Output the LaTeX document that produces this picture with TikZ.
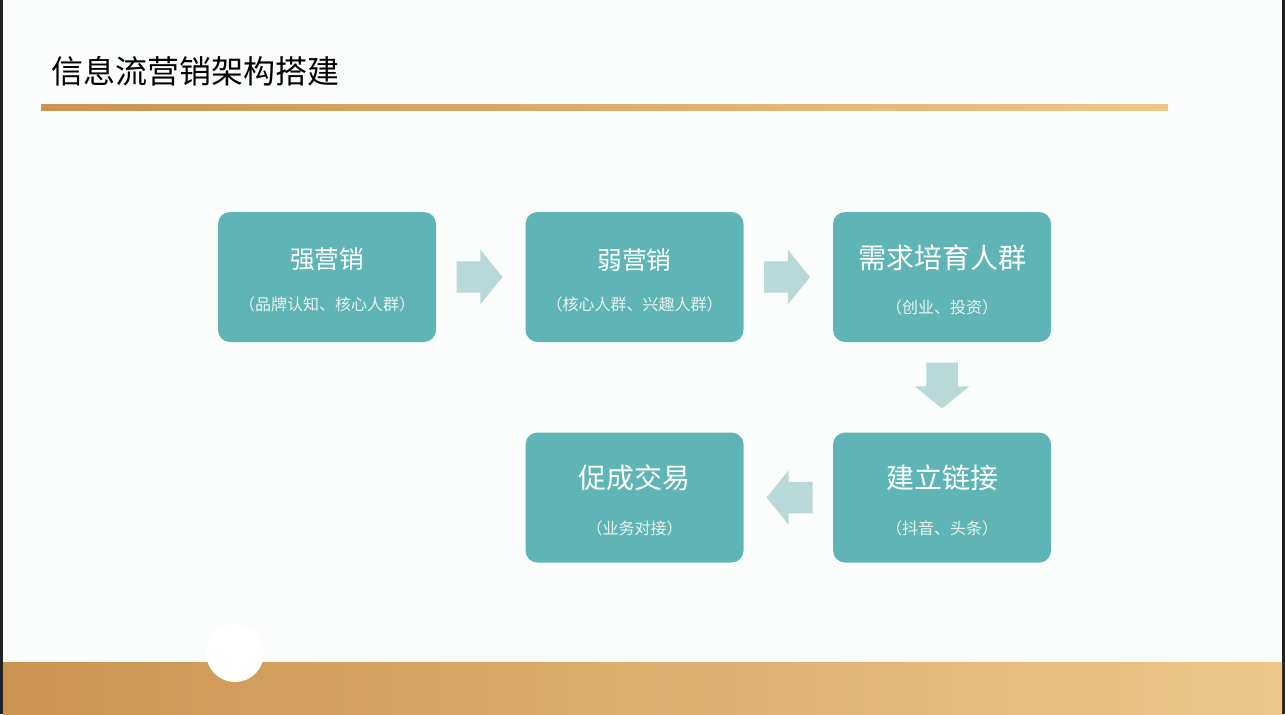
\documentclass[tikz,border=0pt]{standalone}
\usepackage{fontspec}
\setmainfont{Noto Sans CJK SC}
\usetikzlibrary{positioning,shapes.arrows}

\definecolor{pagebg}{HTML}{FBFDFC}
\definecolor{frame}{HTML}{222222}
\definecolor{boxteal}{HTML}{5FB5B5}
\definecolor{arrowteal}{HTML}{B8D9D8}
\definecolor{subwhite}{HTML}{EAF4EF}
\definecolor{goldL}{HTML}{CB9450}
\definecolor{goldR}{HTML}{EEC788}

\begin{document}
\begin{tikzpicture}[
  x=0.75pt, y=-0.75pt,
  stage/.style   ={fill=boxteal, rounded corners=9pt, minimum width=163.5pt,
                   minimum height=97.5pt, inner sep=0pt},
  head/.style    ={text=white, inner sep=0pt, font=\fontsize{18.5}{22}\selectfont},
  bighead/.style ={text=white, inner sep=0pt, font=\fontsize{21}{25}\selectfont},
  sub/.style     ={text=subwhite, inner sep=0pt, font=\fontsize{12}{14}\selectfont},
  flowarrow/.style={single arrow, fill=arrowteal, inner xsep=0pt, inner ysep=11.6pt,
                   minimum height=34.5pt, minimum width=40.5pt,
                   single arrow head extend=8.6pt, single arrow tip angle=101.7},
  downarrow/.style={flowarrow, shape border rotate=270, inner xsep=11.6pt, inner ysep=0pt},
]
\useasboundingbox (0,0) rectangle (1285,714);
\fill[pagebg] (0,0) rectangle (1285,714);
\fill[frame] (0,0) rectangle (3,714);
\fill[frame] (1282,0) rectangle (1285,714);

% title and rule
\node[anchor=west, inner sep=0pt, font=\fontsize{24}{28}\selectfont] (title) at (51,71)
  {信息流营销架构搭建};
\shade[left color=goldL, right color=goldR] (41,104) rectangle (1168,110);

% footer
\shade[left color=goldL, right color=goldR] (3,662) rectangle (1282,714);
\fill[white] (235,653) circle (21.75pt);

% stages
\node[stage] (qiang) at (327,277) {};
\node[stage, right=66.75pt of qiang] (ruo) {};
\node[stage, right=66.75pt of ruo] (xuqiu) {};
\node[stage, below=67.5pt of xuqiu] (lianjie) {};
\node[stage, below=67.5pt of ruo] (jiaoyi) {};

\node[head] (qiang-t) at ([yshift=13pt]qiang.center) {强营销};
\node[sub] (qiang-s) at ([yshift=-20.25pt]qiang.center) {（品牌认知、核心人群）};
\node[head] (ruo-t) at ([yshift=13pt]ruo.center) {弱营销};
\node[sub] (ruo-s) at ([yshift=-20.25pt]ruo.center) {（核心人群、兴趣人群）};
\node[bighead] (xuqiu-t) at ([yshift=14.5pt]xuqiu.center) {需求培育人群};
\node[sub] (xuqiu-s) at ([yshift=-23pt]xuqiu.center) {（创业、投资）};
\node[bighead] (lianjie-t) at ([yshift=14.5pt]lianjie.center) {建立链接};
\node[sub] (lianjie-s) at ([yshift=-23pt]lianjie.center) {（抖音、头条）};
\node[bighead] (jiaoyi-t) at ([yshift=14.5pt]jiaoyi.center) {促成交易};
\node[sub] (jiaoyi-s) at ([yshift=-23pt]jiaoyi.center) {（业务对接）};

% arrows
\node[flowarrow, right=15pt of qiang] (a1) {};
\node[flowarrow, right=15pt of ruo] (a2) {};
\node[downarrow, below=15pt of xuqiu] (a3) {};
\node[flowarrow, shape border rotate=180, left=15pt of lianjie] (a4) {};

\end{tikzpicture}
\end{document}
